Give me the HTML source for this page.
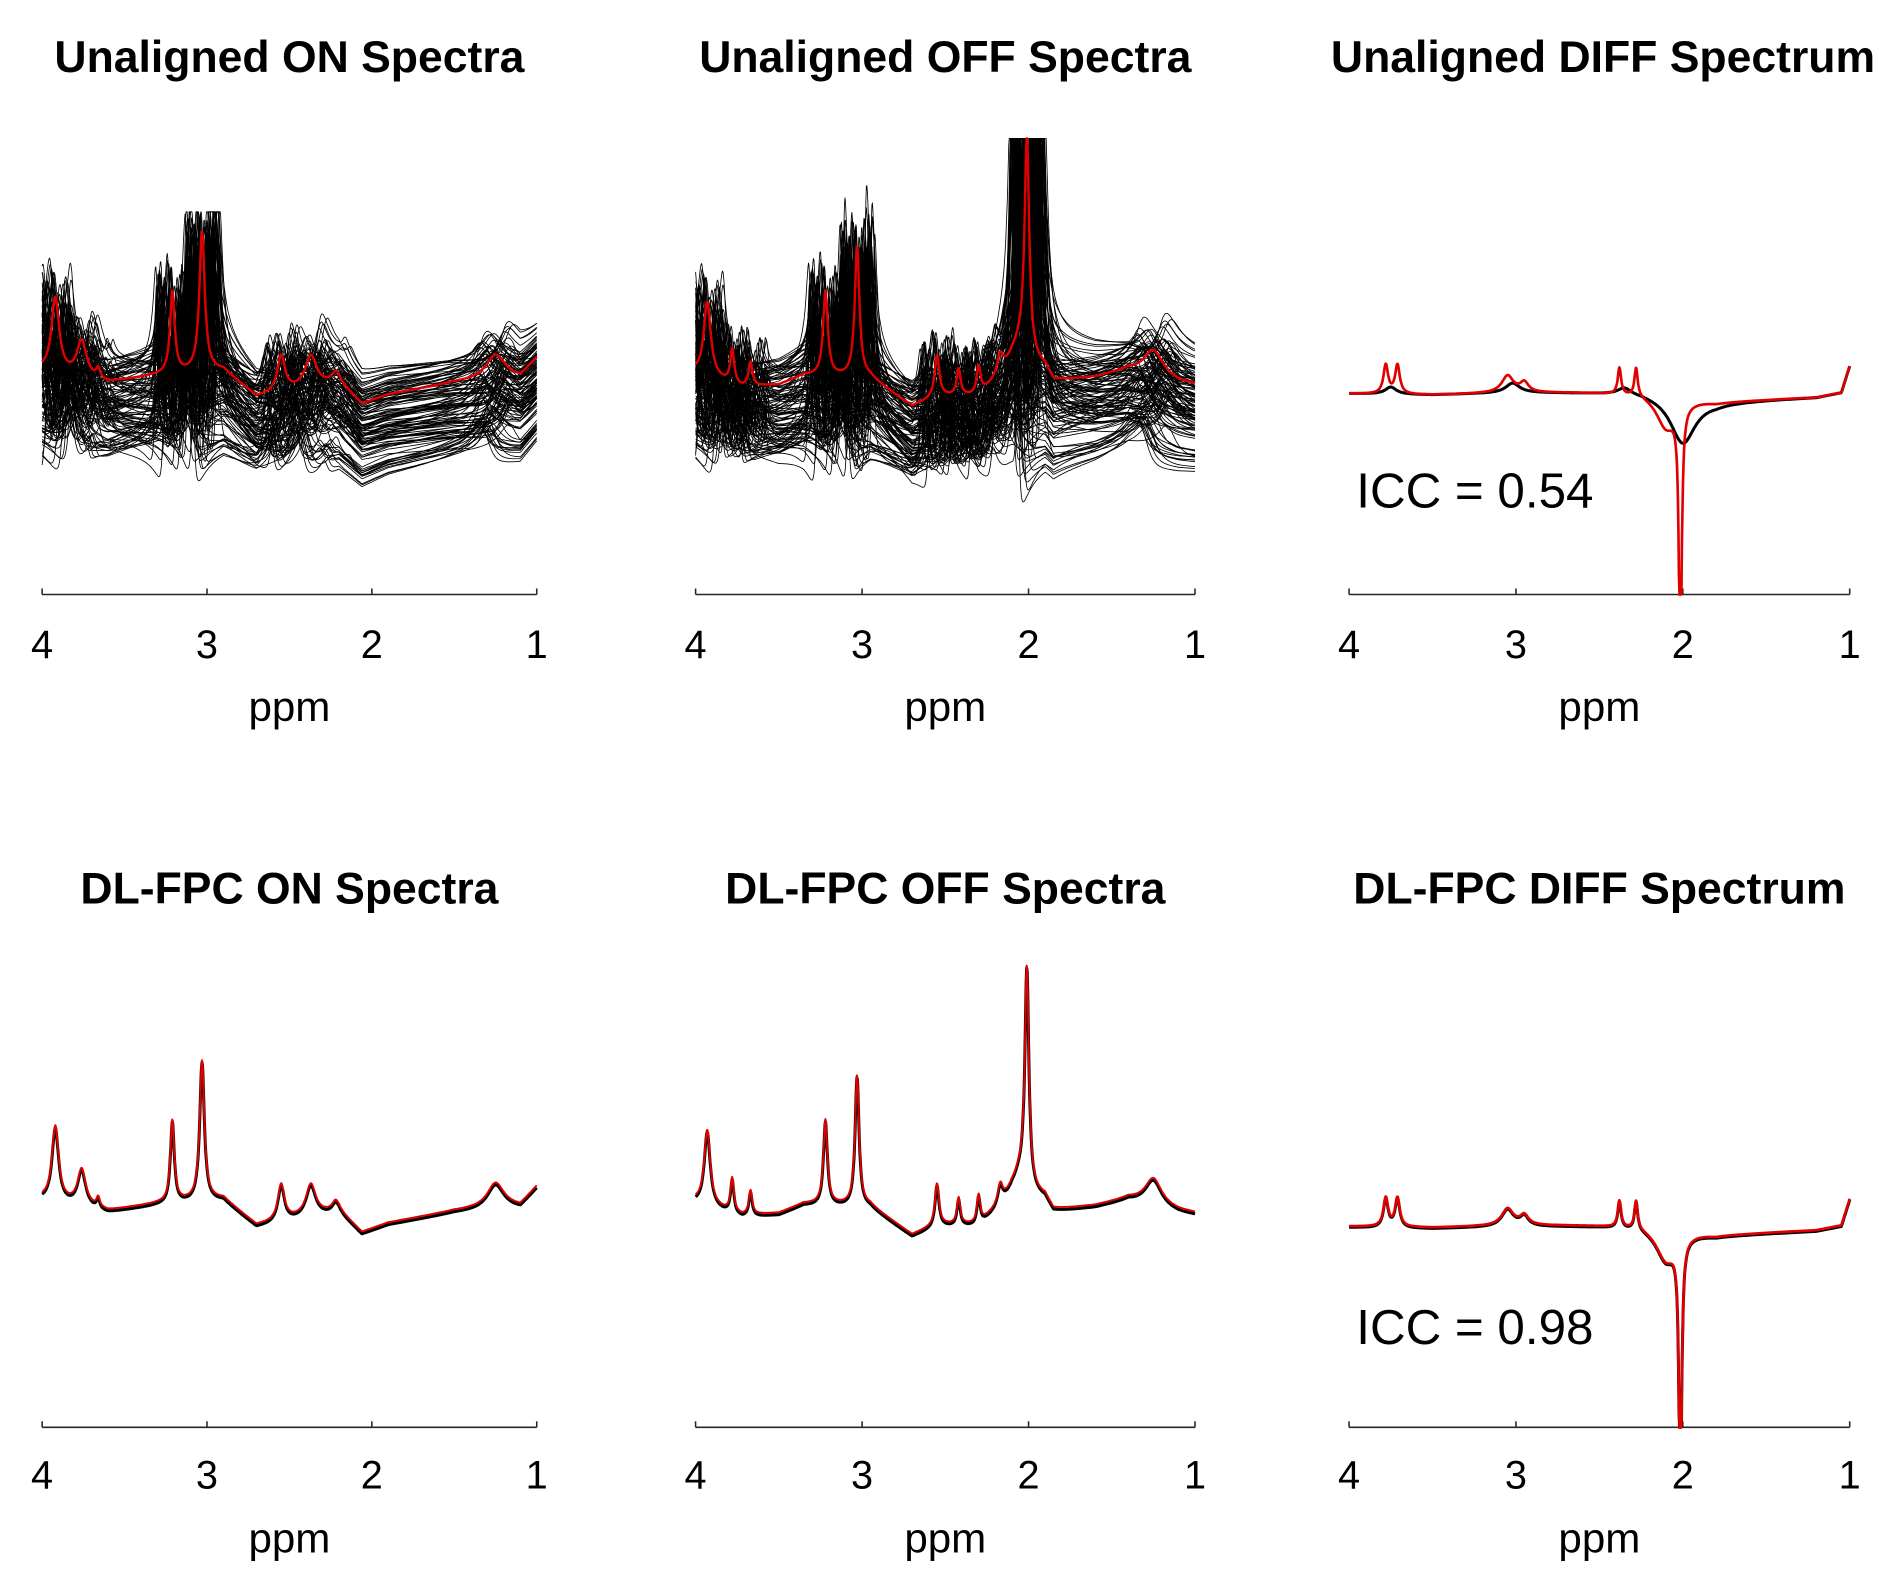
<!DOCTYPE html>
<html><head><meta charset="utf-8"><style>
html,body{margin:0;padding:0;background:#fff}
svg{display:block}
text{font-family:"Liberation Sans",Arial,sans-serif;fill:#000}
</style></head><body>
<svg id="fig" width="1887" height="1584" viewBox="0 0 1568 1316.2" preserveAspectRatio="none" xmlns="http://www.w3.org/2000/svg"></svg>
<script>
// ---- data ----
const ticks = [4, 3, 2, 1];
const tickLabels = ["4", "3", "2", "1"];
// ON spectrum: baseline knots [ppm, height] and peaks [ppm, amp, halfwidth]
const onBase = [[4.0,190],[3.6,180],[3.3,186],[2.9,190],[2.7,168],[2.2,180],[2.06,162],[1.9,170],[1.5,180],[1.2,184],[1.1,184],[1.0,200]];
const onPeaks = [[3.92,62,0.02],[3.76,30,0.025],[3.66,8,0.01],[3.21,68,0.012],[3.03,116,0.014],[2.55,30,0.02],[2.37,26,0.03],[2.22,8,0.02],[1.25,20,0.05]];
// OFF spectrum
const offBase = [[4.0,188],[3.72,176],[3.5,178],[3.35,186],[2.95,184],[2.7,160],[2.55,168],[2.3,168],[2.1,190],[1.9,190],[1.85,180],[1.6,184],[1.4,190],[1.1,180],[1.0,178]];
const offPeaks = [[3.93,62,0.018],[3.78,28,0.01],[3.67,20,0.01],[3.22,70,0.012],[3.03,108,0.012],[2.55,34,0.012],[2.42,22,0.01],[2.3,24,0.01],[2.17,16,0.015],[2.01,180,0.012],[2.05,20,0.05],[1.25,22,0.05]];
// DIFF spectrum
const diffBase = [[4.0,167],[3.5,166],[3.0,168],[2.6,168],[2.25,168],[1.8,160],[1.2,164],[1.05,168],[1.0,190]];
const diffPeaksRed = [[3.78,24,0.014],[3.71,24,0.014],[3.05,14,0.035],[2.95,8,0.025],[2.38,22,0.01],[2.28,24,0.01],[2.1,-26,0.06],[2.015,-230,0.008]];
const diffPeaksBlackTop = [[3.75,6,0.04],[3.02,8,0.05],[2.35,6,0.05],[2.0,-38,0.09]];
// unaligned transient shifts (ppm), vertical offsets, dispersive phase fraction
const shifts = [-0.09,0.07,-0.03,0.1,0.02,-0.06,0.05,-0.1,0.08,-0.01,0.04,-0.07,0.09,-0.04,0.01,-0.08,0.06,-0.02,0.03,-0.05,0.085,-0.095,0.015,-0.035,0.055,-0.065,0.075,-0.015,0.045,-0.055,0.095,-0.085,0.025,-0.025,0.065,-0.075,0.035,-0.045,0.005,-0.005];
const offsets = [-10,-35,5,-50,-20,-5,-60,10,-30,-45,0,-25,-55,-15,8,-40,-65,-8,-28,12,-18,-48,-2,-38,-58,-12,4,-32,-22,-52,-6,-42,14,-26,-62,-16,-36,2,-46,-24];
const phases = [0.2,-0.5,0.1,-0.7,0.4,-0.2,-0.8,0.5,-0.3,-0.6,0.3,-0.4,0.6,-0.1,0.0,-0.9,0.7,-0.35,0.15,-0.55,0.45,-0.75,0.25,-0.45,0.55,-0.25,0.35,-0.65,0.05,-0.85,0.65,-0.15,0.3,-0.5,0.4,-0.7,0.1,-0.3,0.2,-0.6];

// ---- layout ----
const svg = document.getElementById('fig');
const NS = 'http://www.w3.org/2000/svg';
const cols = [[35,446],[578,993],[1121,1537]];
const rows = [{axis:494, title:50, tick:538, label:590},{axis:1186, title:741, tick:1228, label:1281}];
const titles = [["Unaligned ON Spectra","Unaligned OFF Spectra","Unaligned DIFF Spectrum"],["DL-FPC ON Spectra","DL-FPC OFF Spectra","DL-FPC DIFF Spectrum"]];

function interp(knots, p){
  for(let i=0;i<knots.length-1;i++){
    const a=knots[i], b=knots[i+1];
    if(p<=a[0] && p>=b[0]){const t=(a[0]-p)/(a[0]-b[0]); return a[1]+t*(b[1]-a[1]);}
  }
  return p>knots[0][0]?knots[0][1]:knots[knots.length-1][1];
}
function spec(base, peaks, p, shift, phase, broad){
  let v = interp(base, p);
  const q = p - shift;
  for(const [c,a,w0] of peaks){
    const w=w0*broad, d=q-c;
    v += a*(w*w/(w*w+d*d)) + a*phase*(w*d/(w*w+d*d));
  }
  return v;
}
function el(tag, attrs, parent){const e=document.createElementNS(NS,tag);for(const k in attrs)e.setAttribute(k,attrs[k]);(parent||svg).appendChild(e);return e;}

function drawLine(g, c, r, fn, color, sw, vmin, vmax, name){
  const [x0,x1]=cols[c]; const ay=rows[r].axis;
  let d='';
  for(let p=4; p>=0.9995; p-=0.003){
    let v=fn(p); v=Math.max(vmin,Math.min(vmax,v));
    const x=x0+(4-p)/3*(x1-x0), y=ay-v;
    d+=(d?'L':'M')+x.toFixed(1)+' '+y.toFixed(1);
  }
  const path=el('path',{d:d,fill:'none',stroke:color,'stroke-width':sw,'stroke-linejoin':'round'},g);
  
  
}

for(let r=0;r<2;r++){
  for(let c=0;c<3;c++){
    const g=el('g',{});
    
    
    const [x0,x1]=cols[c]; const R=rows[r];
    const t=el('text',{x:(x0+x1)/2+(c===2&&r===0?3:0),y:R.title,'text-anchor':'middle','dominant-baseline':'middle','font-size':37,'font-weight':'bold'},g);
    t.textContent=titles[r][c];
    
    
    const ax=el('line',{x1:x0,x2:x1,y1:R.axis,y2:R.axis,stroke:'#262626','stroke-width':1.3},g);
    
    
    ticks.forEach((tk,i)=>{
      const x=x0+(4-tk)/3*(x1-x0);
      const tl=el('line',{x1:x,x2:x,y1:R.axis,y2:R.axis-5,stroke:'#262626','stroke-width':1.3},g);
      
      
      const tx=el('text',{x:x,y:R.tick,'text-anchor':'middle','dominant-baseline':'middle','font-size':33,fill:'#262626'},g);
      tx.textContent=tickLabels[i];
      
      
    });
    const xl=el('text',{x:(x0+x1)/2,y:R.label,'text-anchor':'middle','dominant-baseline':'middle','font-size':35,fill:'#262626'},g);
    xl.textContent='ppm';
    
    

    if(c<2){
      const base=c===0?onBase:offBase, peaks=c===0?onPeaks:offPeaks;
      const clip=c===0?318:379;
      if(r===0){
        const n=shifts.length;
        for(let k=0;k<3;k++){
          for(let i=0;i<n;i++){
            const s=shifts[(i+k*13)%n], o=offsets[(i+k*7)%n], ph=phases[(i+k*11)%n]*1.5;
            drawLine(g,c,r,p=>spec(base,peaks,p,s,ph,1.3)+o,'#000',0.7,0,clip,'unaligned-transient');
          }
        }
        drawLine(g,c,r,p=>spec(base,peaks,p,0,0,1.4)-4,'#e00000',2,0,clip,'mean-spectrum');
      } else {
        drawLine(g,c,r,p=>spec(base,peaks,p,0,0,1.2)-2,'#000',2.5,0,999,'reference-spectrum');
        drawLine(g,c,r,p=>spec(base,peaks,p,0,0,1.2),'#e00000',1.6,0,999,'corrected-spectrum');
      }
    } else {
      if(r===0){
        drawLine(g,c,r,p=>spec(diffBase,diffPeaksBlackTop,p,0,0,1),'#000',2.5,0,999,'reference-diff');
      } else {
        drawLine(g,c,r,p=>spec(diffBase,diffPeaksRed,p,0,0,1.2)-1,'#000',2.5,0,999,'reference-diff');
      }
      drawLine(g,c,r,p=>spec(diffBase,diffPeaksRed,p,0,0,1.2),'#e00000',2.2,0,999,'diff-spectrum');
      const ic=el('text',{x:1127,y:r===0?411:1106,'dominant-baseline':'middle','font-size':41},g);
      ic.textContent=r===0?'ICC = 0.54':'ICC = 0.98';
      
      
    }
  }
}
</script>
</body></html>
